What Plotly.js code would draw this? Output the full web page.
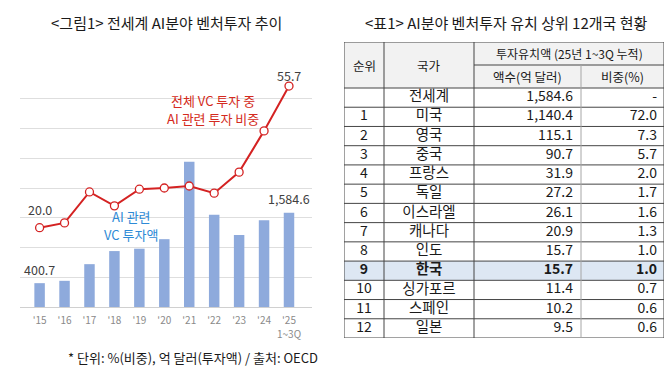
<!DOCTYPE html>
<html><head><meta charset="utf-8">
<script src="https://cdn.plot.ly/plotly-3.0.1.min.js"></script>
<style>html,body{margin:0;padding:0;background:#fff;}#chart{width:670px;height:371px;}</style>
</head><body><div id="chart"></div>
<script>
// ---- chart data ----
const years = ["'15","'16","'17","'18","'19","'20","'21","'22","'23","'24","'25"];
const yearSubLabel = {"'25": "1~3Q"};
const vcAmount = [400.7, 440, 720, 940, 980, 1140, 2440, 1550, 1210, 1460, 1584.6]; // 억 달러
const aiShare = [20.0, 21.2, 29.0, 25.5, 29.7, 30.0, 30.5, 28.7, 34.0, 44.4, 55.7];  // %
const labelledAmount = {"'15": "400.7", "'25": "1,584.6"};
const labelledShare = {"'15": "20.0", "'25": "55.7"};

// ---- table data ----
const ranks = ["", "1","2","3","4","5","6","7","8","9","10","11","12"];
const countries = ["전세계","미국","영국","중국","프랑스","독일","이스라엘","캐나다","인도","한국","싱가포르","스페인","일본"];
const amounts = [1584.6, 1140.4, 115.1, 90.7, 31.9, 27.2, 26.1, 20.9, 15.7, 15.7, 11.4, 10.2, 9.5];
const shares = [null, 72.0, 7.3, 5.7, 2.0, 1.7, 1.6, 1.3, 1.0, 1.0, 0.7, 0.6, 0.6];
const highlight = "한국";

// ---- helpers / layout constants ----
const W = 670, H = 371;
const FONT = "'Noto Sans CJK KR', 'Noto Sans', sans-serif";
const px = x => x / W, py = y => 1 - y / H;
const fmt = v => v.toLocaleString('en-US', {minimumFractionDigits: 1, maximumFractionDigits: 1});

// table geometry (in table-axis units = pixels)
const T = {left: 344, right: 664, top: 42, mid: 65, head: 88, bottom: 338};
const colX = [344, 384, 474, 581, 664];
const nRows = countries.length;
const rowH = (T.bottom - T.head) / nRows;
const rowY = countries.map((_, i) => T.head + (i + 0.5) * rowH);
const hiIdx = countries.indexOf(highlight);
const bold = (s, i) => i === hiIdx ? '<b>' + s + '</b>' : s;

const traces = [
  {type: 'bar', x: years, y: vcAmount, marker: {color: '#8eaadc'}, width: 0.42,
   xaxis: 'x', yaxis: 'y', hoverinfo: 'x+y'},
  {type: 'scatter', mode: 'lines+markers', x: years, y: aiShare, xaxis: 'x', yaxis: 'y2',
   line: {color: '#d42222', width: 2},
   marker: {symbol: 'circle', size: 8, color: '#ffffff', line: {color: '#d42222', width: 1.3}}},
  // table text
  {type: 'scatter', mode: 'text', xaxis: 'x3', yaxis: 'y3', hoverinfo: 'none',
   x: ranks.map(() => (colX[0] + colX[1]) / 2), y: rowY,
   text: ranks.map(bold), textposition: 'middle center',
   textfont: {family: FONT, size: 14, color: '#1a1a1a'}},
  {type: 'scatter', mode: 'text', xaxis: 'x3', yaxis: 'y3', hoverinfo: 'none',
   x: countries.map(() => (colX[1] + colX[2]) / 2), y: rowY,
   text: countries.map(bold), textposition: 'middle center',
   textfont: {family: FONT, size: 14.5, color: '#1a1a1a'}},
  {type: 'scatter', mode: 'text', xaxis: 'x3', yaxis: 'y3', hoverinfo: 'none',
   x: amounts.map(() => colX[3] - 8), y: rowY,
   text: amounts.map((v, i) => bold(fmt(v), i)), textposition: 'middle left',
   textfont: {family: FONT, size: 14, color: '#1a1a1a'}},
  {type: 'scatter', mode: 'text', xaxis: 'x3', yaxis: 'y3', hoverinfo: 'none',
   x: shares.map(() => colX[4] - 7), y: rowY,
   text: shares.map((v, i) => bold(v === null ? '-' : v.toFixed(1), i)), textposition: 'middle left',
   textfont: {family: FONT, size: 14, color: '#1a1a1a'}}
];

const shapes = [];
const L = (x0, y0, x1, y1, c) => shapes.push({type: 'line', xref: 'x3', yref: 'y3', x0, y0, x1, y1,
  line: {color: c || '#454545', width: 1}, layer: 'above'});
shapes.push({type: 'rect', xref: 'x3', yref: 'y3', x0: T.left, x1: T.right, y0: T.top, y1: T.head,
  fillcolor: '#f2f2f2', line: {width: 0}, layer: 'below'});
shapes.push({type: 'rect', xref: 'x3', yref: 'y3', x0: T.left, x1: T.right,
  y0: T.head + hiIdx * rowH, y1: T.head + (hiIdx + 1) * rowH,
  fillcolor: '#dde7f3', line: {width: 0}, layer: 'below'});
L(T.left, T.top, T.right, T.top);
L(colX[2], T.mid, T.right, T.mid);
for (let i = 0; i <= nRows; i++) L(T.left, T.head + i * rowH, T.right, T.head + i * rowH);
[colX[0], colX[1], colX[2], colX[4]].forEach(x => L(x, T.top, x, T.bottom));
L(colX[3], T.mid, colX[3], T.bottom, '#a6a6a6');

const annotations = [
  {text: '<그림1> 전세계 AI분야 벤처투자 추이', x: px(166), y: py(22), font: {size: 15, color: '#1a1a1a'}},
  {text: '<표1> AI분야 벤처투자 유치 상위 12개국 현황', x: px(506), y: py(22), font: {size: 15, color: '#1a1a1a'}},
  {text: '전체 VC 투자 중', x: px(213), y: py(101), font: {size: 13, color: '#d42a20'}},
  {text: 'AI 관련 투자 비중', x: px(213), y: py(119), font: {size: 13, color: '#d42a20'}},
  {text: 'AI 관련', x: px(131), y: py(216), font: {size: 13, color: '#2e8ad6'}},
  {text: 'VC 투자액', x: px(131), y: py(234), font: {size: 13, color: '#2e8ad6'}},
  {text: '* 단위: %(비중), 억 달러(투자액) / 출처: OECD', x: px(193), y: py(357), font: {size: 13, color: '#1a1a1a'}},
  // table header
  {text: '순위', xref: 'x3', yref: 'y3', x: (colX[0] + colX[1]) / 2, y: (T.top + T.head) / 2, font: {size: 12.5, color: '#1a1a1a'}},
  {text: '국가', xref: 'x3', yref: 'y3', x: (colX[1] + colX[2]) / 2, y: (T.top + T.head) / 2, font: {size: 12.5, color: '#1a1a1a'}},
  {text: '투자유치액 (25년 1~3Q 누적)', xref: 'x3', yref: 'y3', x: (colX[2] + colX[4]) / 2, y: (T.top + T.mid) / 2, font: {size: 12, color: '#1a1a1a'}},
  {text: '액수(억 달러)', xref: 'x3', yref: 'y3', x: (colX[2] + colX[3]) / 2, y: (T.mid + T.head) / 2, font: {size: 12.5, color: '#1a1a1a'}},
  {text: '비중(%)', xref: 'x3', yref: 'y3', x: (colX[3] + colX[4]) / 2, y: (T.mid + T.head) / 2, font: {size: 12.5, color: '#1a1a1a'}}
].map(a => Object.assign({xref: 'paper', yref: 'paper', showarrow: false, xanchor: 'center', yanchor: 'middle', borderpad: 0}, a));

// data labels / sub-labels via axis scales
years.forEach((yr, i) => {
  if (labelledAmount[yr]) annotations.push({xref: 'x', yref: 'y', x: yr, y: vcAmount[i], text: labelledAmount[yr],
    showarrow: false, yanchor: 'middle', yshift: 14, font: {size: 12.5, color: '#404040'}});
  if (labelledShare[yr]) annotations.push({xref: 'x', yref: 'y2', x: yr, y: aiShare[i], text: labelledShare[yr],
    showarrow: false, yanchor: 'middle', yshift: i === 0 ? 18 : 11, font: {size: 12.5, color: '#404040'}});
  if (yearSubLabel[yr]) annotations.push({xref: 'x', yref: 'paper', x: yr, y: py(333), text: yearSubLabel[yr],
    showarrow: false, yanchor: 'middle', borderpad: 0, font: {size: 10, color: '#8a8a8a'}});
});

const layout = {
  width: W, height: H, margin: {l: 0, r: 0, t: 0, b: 0},
  paper_bgcolor: '#ffffff', plot_bgcolor: '#ffffff', showlegend: false,
  font: {family: FONT, color: '#1a1a1a'},
  xaxis: {domain: [px(20), px(312)], type: 'category',
    tickfont: {size: 10, color: '#8a8a8a'}, ticks: 'outside', ticklen: 4, tickcolor: 'rgba(0,0,0,0)',
    showline: false, showgrid: false, zeroline: false, fixedrange: true},
  yaxis: {domain: [py(307), py(69)], range: [0, 4000], dtick: 500, showticklabels: false,
    gridcolor: '#dedede', gridwidth: 1, zeroline: true, zerolinecolor: '#d0d0d0', zerolinewidth: 1, showline: false},
  yaxis2: {overlaying: 'y', range: [0, 60], showticklabels: false, showgrid: false, zeroline: false},
  xaxis3: {domain: [px(T.left), px(T.right)], range: [T.left, T.right], visible: false, anchor: 'y3'},
  yaxis3: {domain: [py(T.bottom), py(T.top)], range: [T.bottom, T.top], visible: false, anchor: 'x3'},
  shapes, annotations
};

Plotly.newPlot('chart', traces, layout, {displayModeBar: false, staticPlot: true});
</script></body></html>
